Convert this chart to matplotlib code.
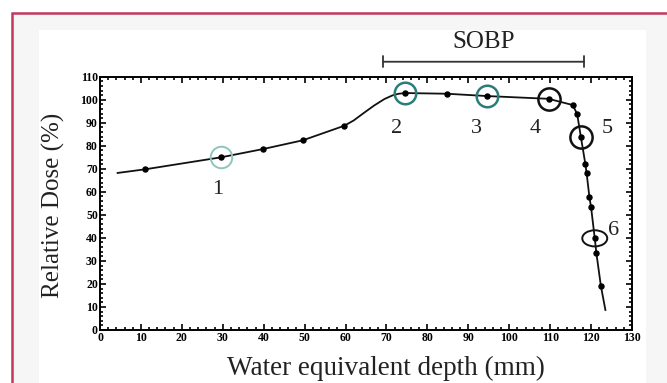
import matplotlib
matplotlib.use("Agg")
import matplotlib.pyplot as plt
from matplotlib.patches import Rectangle, Ellipse
from matplotlib.ticker import MultipleLocator

# 曲线 (读自图中的线)
curve_x = [4.3, 11.1, 29.6, 39.9, 49.6, 59.7, 62.0, 64.5, 67.0, 69.5, 71.5, 73.0, 74.6, 84.8,
           94.5, 109.6, 115.5, 116.6, 117.5, 118.6, 118.9, 119.6, 120.0, 120.9, 121.3, 122.4, 123.5]
curve_y = [68.2, 69.8, 75.0, 78.6, 82.4, 88.7, 91.0, 94.3, 97.5, 100.3, 101.9, 102.6, 102.9, 102.6,
           101.6, 100.4, 97.7, 93.8, 83.9, 72.1, 68.3, 57.6, 53.3, 39.8, 33.3, 19.1, 8.7]

# 测量点
point_x = [11.1, 29.6, 39.9, 49.6, 59.7, 74.6, 84.8, 94.5, 109.6, 115.5, 116.6, 117.5,
           118.6, 118.9, 119.6, 120.0, 120.9, 121.3, 122.4]
point_y = [69.8, 75.0, 78.6, 82.4, 88.7, 102.9, 102.6, 101.6, 100.4, 97.7, 93.8, 83.9,
           72.1, 68.3, 57.6, 53.3, 39.8, 33.3, 19.1]

# 标记圈
light_x, light_y = [29.6], [75.0]
teal_x, teal_y = [74.6, 94.5], [102.9, 101.6]
black_x, black_y = [109.6, 117.5], [100.4, 83.9]
ellipse_xy = (120.9, 39.8)

# 编号
label_text = ['1', '2', '3', '4', '5', '6']
label_x = [28.8, 72.5, 91.9, 106.4, 123.9, 125.4]
label_y = [60.8, 87.7, 87.7, 87.7, 87.7, 43.4]

sobp_range = (69.2, 118.3)

serif = 'Liberation Serif'

fig = plt.figure(figsize=(6.67, 3.83), dpi=100)
fig.patch.set_facecolor('white')
# 背景和边框 (右边和下边出了画面)
fig.patches.append(Rectangle((11.5 / 667, -0.2), 1.2, 1.2 - 13 / 383, transform=fig.transFigure,
                             facecolor='#f6f6f6', edgecolor='#c2385f', linewidth=1.8, zorder=-3))
fig.patches.append(Rectangle((39 / 667, 0), (646 - 39) / 667, 1 - 30 / 383, transform=fig.transFigure,
                             facecolor='white', edgecolor='none', zorder=-2))

ax = fig.add_axes([100 / 667, 1 - 330 / 383, 532 / 667, 253.3 / 383])
ax.set_facecolor('none')

ax.plot(curve_x, curve_y, color='#111111', linewidth=1.3, zorder=2)
ax.plot(point_x, point_y, 'o', color='black', markersize=3.6, zorder=3)

ax.plot(light_x, light_y, 'o', mfc='none', mec='#8ec6bc', mew=1.4, markersize=15.5, zorder=4)
ax.plot(teal_x, teal_y, 'o', mfc='none', mec='#2b7d78', mew=1.8, markersize=15.5, zorder=4)
ax.plot(black_x, black_y, 'o', mfc='none', mec='#111111', mew=1.8, markersize=16, zorder=4)
ax.add_patch(Ellipse(ellipse_xy, 6.1, 7.0, facecolor='none', edgecolor='#111111', linewidth=1.4, zorder=4))

for t, x, y in zip(label_text, label_x, label_y):
    ax.text(x, y, t, fontsize=16, family=serif, ha='center', va='center', color='#222222')

# SOBP
ax.annotate('', xy=(sobp_range[0], 116.5), xytext=(sobp_range[1], 116.5),
            arrowprops=dict(arrowstyle='|-|', color='#333333', lw=1.3, mutation_scale=4,
                            shrinkA=0, shrinkB=0), annotation_clip=False)
ax.text(sum(sobp_range) / 2, 125.0, 'SOBP', fontsize=18, family=serif, ha='center', va='center',
        color='#222222')

ax.set_xlim(0, 130)
ax.set_ylim(0, 110)
ax.xaxis.set_major_locator(MultipleLocator(10))
ax.yaxis.set_major_locator(MultipleLocator(10))
ax.xaxis.set_minor_locator(MultipleLocator(2))
ax.yaxis.set_minor_locator(MultipleLocator(2))
ax.tick_params(which='major', direction='in', length=4, width=1.2, top=True, right=True,
               labelsize=8.5, pad=1.5)
ax.tick_params(which='minor', direction='in', length=2, width=1.2, top=True, right=True)
for lab in ax.get_xticklabels() + ax.get_yticklabels():
    lab.set_fontfamily(serif)
    lab.set_fontweight('bold')
for s in ax.spines.values():
    s.set_linewidth(1.4)

fig.text(386 / 667, 1 - 368 / 383, 'Water equivalent depth (mm)', fontsize=19.5, family=serif,
         ha='center', va='center', color='#222222')
fig.text(53 / 667, 1 - 205 / 383, 'Relative Dose (%)', fontsize=18, family=serif, rotation=90,
         ha='center', va='center', color='#222222')

fig.savefig('out.png', dpi=100)
